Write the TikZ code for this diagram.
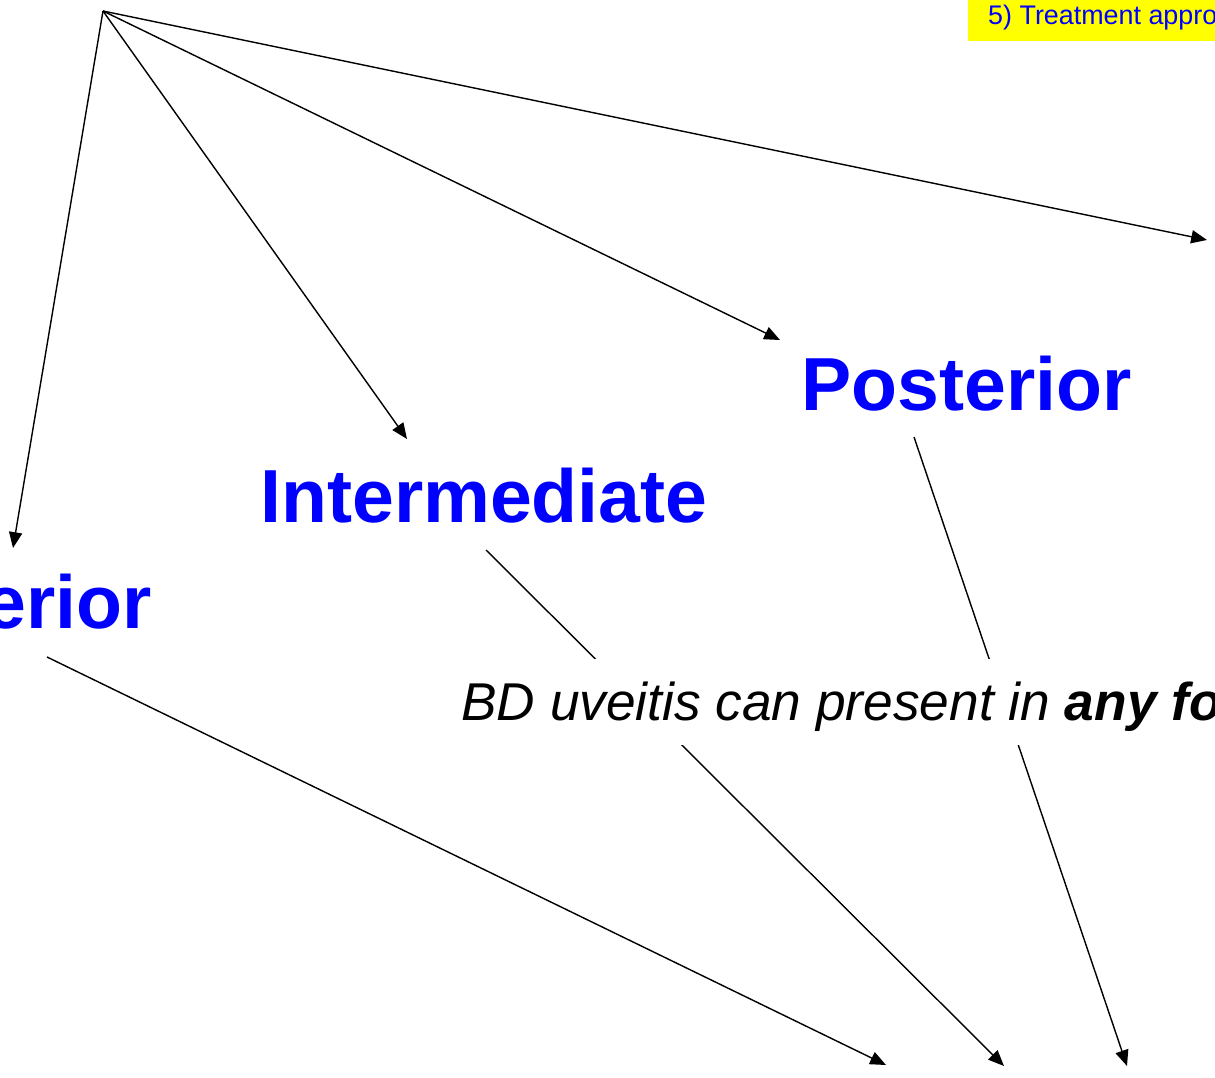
\documentclass[tikz,border=0pt]{standalone}
\usepackage{fontspec}
\setmainfont{Liberation Sans}
\usetikzlibrary{arrows.meta}
\definecolor{lblblue}{RGB}{0,0,255}
\definecolor{hdryellow}{RGB}{255,255,0}
\begin{document}
\begin{tikzpicture}[x=0.02cm,y=-0.02cm,
  lab/.style={text=lblblue,inner sep=0pt,font=\fontsize{42.8}{50}\selectfont\bfseries},
  maintext/.style={fill=white,inner xsep=0pt,inner ysep=7.9pt,text height=26.7pt,text depth=6.2pt,font=\fontsize{30.3}{36}\selectfont\itshape},
  hdr/.style={fill=hdryellow,text=lblblue,inner xsep=11.3pt,inner ysep=9pt,text depth=0pt,font=\fontsize{15.3}{18}\selectfont},
  arr/.style={line width=0.8pt,-{Triangle[length=9pt,width=7.5pt]}},
  ln/.style={line width=0.8pt}]
\useasboundingbox (0,0) rectangle (1215,1078);
\clip (0,0) rectangle (1215,1078);
\node[hdr,anchor=base west] (hdr) at (968,25) {5) Treatment approach};
\coordinate (o) at (103,11);
\node[lab,anchor=base east] (ant) at (152,628) {Anterior};
\node[lab,anchor=base west] (int) at (260,522) {Intermediate};
\node[lab,anchor=base west] (post) at (801,410) {Posterior};
\coordinate (pan) at (1207,240);
\coordinate (e1) at (886,1065);
\coordinate (e2) at (1004,1066);
\coordinate (e3) at (1127,1066);
\draw[arr] (o) -- ([shift={(-139,-80)}]ant.base east);
\draw[arr] (o) -- ([shift={(147,-83)}]int.base west);
\draw[arr] (o) -- ([shift={(-21,-70)}]post.base west);
\draw[arr] (o) -- (pan);
\draw[arr] ([shift={(-105,29)}]ant.base east) -- (e1);
\draw[arr] ([shift={(226,28)}]int.base west) -- (e2);
\draw[arr] ([shift={(113,27)}]post.base west) -- (e3);
\node[maintext,anchor=base west] (bd) at (461,720) {BD uveitis can present in \textbf{any form}};
\end{tikzpicture}
\end{document}
